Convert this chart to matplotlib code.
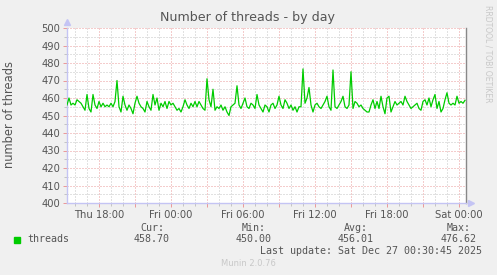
import matplotlib
matplotlib.use("Agg")
import matplotlib.pyplot as plt
import numpy as np

# munin "threads" plugin, day view, one sample every 10 minutes
start_hour = -8.67  # hours relative to Fri 00:00
step_hours = 1 / 6
threads = [
    456, 460, 456, 457, 456, 459, 458, 457, 455, 453,
    462, 454, 452, 462, 456, 454, 458, 455, 457, 455,
    456, 455, 457, 455, 458, 470, 455, 452, 461, 456,
    453, 456, 454, 451, 457, 461, 457, 455, 454, 452,
    458, 455, 453, 462, 456, 460, 453, 457, 455, 458,
    454,
    458, 456, 457, 455, 453, 454, 452, 455, 459, 456,
    454, 457, 455, 458, 455, 458, 456, 454, 453, 471,
    459, 455, 465, 453, 455, 454, 456, 453, 455, 452,
    450, 455, 456, 457, 467, 456, 454, 457, 460, 455,
    454, 457, 456, 454, 462, 456, 454, 452, 456, 455,
    452, 456, 457, 454, 456, 461, 456, 454, 459, 457,
    454, 456, 453, 455, 452, 455, 455, 476.62, 457, 460,
    466, 456, 452, 456, 457, 455, 454, 456, 458, 461,
    455, 453, 476, 455, 454, 456, 458, 461, 455, 454,
    456, 475, 454, 458, 457, 455, 456, 454, 453, 452,
    452, 456, 459, 454, 458, 454, 461, 455, 451, 460,
    461, 452, 455, 458, 456, 457, 458, 456, 461, 458,
    456, 454, 455, 456, 457, 454, 453, 458, 459, 456,
    460, 455, 459, 462, 454, 458, 452, 454, 459, 463,
    457, 456, 457, 456, 461, 457, 458, 457, 458.7,
]

x_tick_hours = [-6, 0, 6, 12, 18, 24]
x_tick_labels = ["Thu 18:00", "Fri 00:00", "Fri 06:00", "Fri 12:00", "Fri 18:00", "Sat 00:00"]
stat_names = ["Cur:", "Min:", "Avg:", "Max:"]
stat_values = ["458.70", "450.00", "456.01", "476.62"]

hours = start_hour + step_hours * np.arange(len(threads))

text_col = "#555555"
major_col = "#eb9a9a"
minor_col = "#c4c4c4"
axis_col = "#c4c4f4"

fig = plt.figure(figsize=(4.97, 2.75), dpi=100, facecolor="#f0f0f0")
ax = fig.add_axes([67 / 497, 72 / 275, 399 / 497, 175 / 275], facecolor="white")

ax.plot(hours, threads, color="#00cc00", lw=0.9, zorder=3)

ax.set_xlim(-8.67, 24.58)
ax.set_ylim(400, 500)

ax.set_yticks(np.arange(400, 501, 10))
ax.set_yticks(np.arange(405, 500, 10), minor=True)
ax.set_xticks(np.arange(-6, 25, 3))
ax.set_xticks(np.arange(-8, 25, 1), minor=True)
ax.set_xticklabels([x_tick_labels[x_tick_hours.index(h)] if h in x_tick_hours else ""
                    for h in np.arange(-6, 25, 3)])

# rrdtool grid: sparse dotted lines
ax.grid(which="major", color=major_col, ls=(0, (1, 2)), lw=0.72, zorder=1)
ax.grid(which="minor", color=minor_col, ls=(0, (1, 2)), lw=0.72, zorder=0)
ax.set_axisbelow(True)

ax.tick_params(which="major", length=3, width=0.72, color=major_col,
               labelsize=7.2, labelcolor=text_col, pad=2)
ax.tick_params(which="minor", length=2, width=0.72, color=minor_col)

for s in ["left", "bottom"]:
    ax.spines[s].set_color(axis_col)
    ax.spines[s].set_linewidth(1)
ax.spines["top"].set_visible(False)
ax.spines["right"].set_color("#888888")
ax.spines["right"].set_linewidth(1)

# little arrow heads on the axes
ax.plot([0], [1.035], marker="^", ms=4, color=axis_col, transform=ax.transAxes, clip_on=False)
ax.plot([1.012], [0], marker=">", ms=4, color=axis_col, transform=ax.transAxes, clip_on=False)

fig.text(248 / 497, 1 - 18 / 275, "Number of threads - by day", ha="center", va="center",
         fontsize=9.1, color=text_col)
fig.text(10 / 497, 1 - 115 / 275, "number of threads", rotation=90, ha="center", va="center",
         fontsize=8.3, color=text_col)
fig.text(488 / 497, 1 - 5 / 275, "RRDTOOL / TOBI OETIKER", rotation=270, ha="center", va="top",
         fontsize=5.5, color="#c8c8c8")

# legend block
mono = "DejaVu Sans Mono"
fig.patches.append(plt.Rectangle((14 / 497, 1 - 243 / 275), 6 / 497, 6 / 275,
                                 transform=fig.transFigure, color="#00cc00", figure=fig))
fig.text(27 / 497, 1 - 239 / 275, "threads", family=mono, fontsize=7.2, color=text_col, va="center")
stat_right = [170, 272, 374, 477]
for name, val, xr in zip(stat_names, stat_values, stat_right):
    fig.text((xr - 6) / 497, 1 - 228 / 275, name, family=mono, fontsize=7.2, color=text_col,
             ha="right", va="center")
    fig.text(xr / 497, 1 - 239 / 275, val, family=mono, fontsize=7.2, color=text_col,
             ha="right", va="center")
fig.text(482 / 497, 1 - 251 / 275, "Last update: Sat Dec 27 00:30:45 2025", family=mono,
         fontsize=7.2, color=text_col, ha="right", va="center")
fig.text(248 / 497, 1 - 264 / 275, "Munin 2.0.76", fontsize=6, color="#c8c8c8",
         ha="center", va="center")

fig.savefig("out.png", dpi=100, facecolor=fig.get_facecolor())
